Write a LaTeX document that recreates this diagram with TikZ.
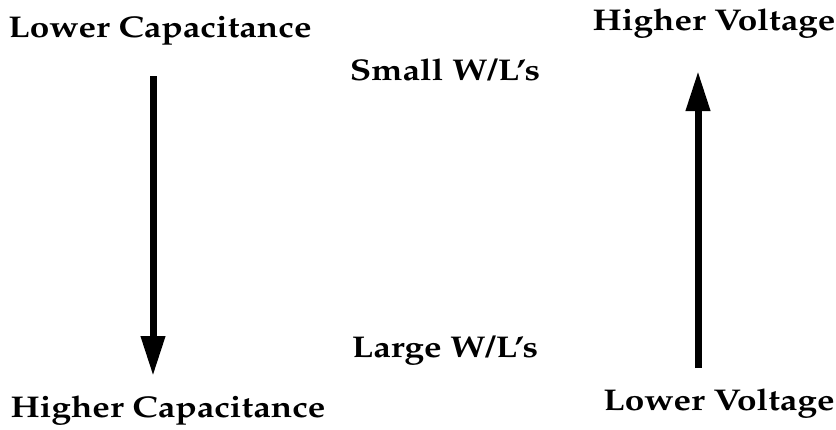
\documentclass[tikz,border=0pt]{standalone}
\usepackage[T1]{fontenc}
\usepackage{mathpazo}
\usepackage{tikz}
\usetikzlibrary{positioning, arrows.meta}
\newcommand{\widelabel}[1]{\scalebox{1.17}[1]{#1}}

\begin{document}
\begin{tikzpicture}[
    x=1pt, y=-1pt,
    every node/.style={
        font=\fontsize{30}{34}\selectfont\bfseries,
        inner sep=0pt,
        anchor=base
    },
    arrow/.style={-{Triangle[length=40pt,width=23pt]}, line width=7pt}
]
\useasboundingbox (0,0) rectangle (836,429);

\node (lowcap) at (160,37) {\widelabel{Lower Capacitance}};
\node (highcap) at (168,417) {\widelabel{Higher Capacitance}};
\node (small) at (445,80) {\widelabel{Small W/L's}};
\node (large) at (445,357) {\widelabel{Large W/L's}};
\node (highvolt) at (714,30) {\widelabel{Higher Voltage}};
\node (lowvolt) at (719,410) {\widelabel{Lower Voltage}};

% arrow ends
\coordinate (captop) at (153,76);
\coordinate (capbot) at (153,376);
\coordinate (voltbot) at (698,368);
\coordinate (volttop) at (698,71);

\draw[arrow] (captop) -- (capbot);
\draw[arrow] (voltbot) -- (volttop);

\end{tikzpicture}
\end{document}
